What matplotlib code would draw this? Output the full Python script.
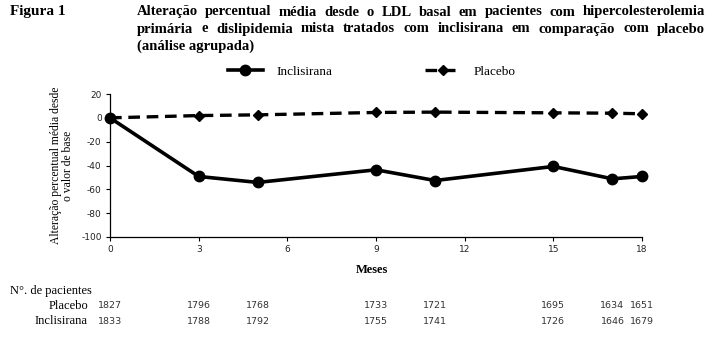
import matplotlib
matplotlib.use("Agg")
import matplotlib.pyplot as plt
from matplotlib.transforms import blended_transform_factory

plt.rcParams["axes.unicode_minus"] = False

# dados do gráfico
meses = [0, 3, 5, 9, 11, 15, 17, 18]
inclisirana = [0, -49.2, -54.2, -43.6, -52.6, -40.8, -51.2, -49.2]
placebo = [0, 1.9, 2.5, 4.5, 4.8, 4.2, 3.9, 3.4]
n_placebo = [1827, 1796, 1768, 1733, 1721, 1695, 1634, 1651]
n_inclisirana = [1833, 1788, 1792, 1755, 1741, 1726, 1646, 1679]
xticks = [0, 3, 6, 9, 12, 15, 18]
yticks = [20, 0, -20, -40, -60, -80, -100]

titulo = ["Alteração percentual média desde o LDL basal em pacientes com hipercolesterolemia",
          "primária e dislipidemia mista tratados com inclisirana em comparação com placebo",
          "(análise agrupada)"]

serif = "Liberation Serif"
sans = "DejaVu Sans"

W, H = 721, 342
fig = plt.figure(figsize=(W / 100, H / 100), dpi=100)
ax = fig.add_axes([110 / W, 1 - 237 / H, (642 - 110) / W, (237 - 94) / H])

l1, = ax.plot(meses, inclisirana, color="black", lw=2.6, marker="o", ms=7.5,
              clip_on=False, zorder=3)
l2, = ax.plot(meses, placebo, color="black", lw=2.4, ls=(0, (3.5, 2)), marker="D",
              ms=5, clip_on=False, zorder=3)

ax.set_xlim(0, 18)
ax.set_ylim(-100, 20)
ax.set_xticks(xticks)
ax.set_yticks(yticks)
ax.tick_params(direction="out", length=3, width=0.8, labelsize=6.5, pad=3,
               labelcolor="#222222")
for lab in ax.get_xticklabels() + ax.get_yticklabels():
    lab.set_family(sans)
ax.spines["top"].set_visible(False)
ax.spines["right"].set_visible(False)
ax.spines["left"].set_linewidth(0.9)
ax.spines["bottom"].set_linewidth(0.9)

ax.set_ylabel("Alteração percentual média desde\no valor de base", family=serif,
              fontsize=8.4, linespacing=1.0, labelpad=5)
fig.text(372 / W, 1 - 270 / H, "Meses", family=serif, fontsize=9,
         fontweight="bold", ha="center", va="center")

fig.legend([l1, l2], ["Inclisirana", "Placebo"], ncol=2, frameon=False,
           loc="center left", bbox_to_anchor=(221 / W, 1 - 72 / H),
           prop={"family": serif, "size": 9.5}, handlelength=2.7,
           columnspacing=7.0, handletextpad=1.0, borderpad=0)

# título
fig.text(10 / W, 1 - 12 / H, "Figura 1", family=serif, fontsize=11,
         fontweight="bold", ha="left", va="center")

fig.canvas.draw()
renderer = fig.canvas.get_renderer()
x0, x1 = 137, 705
for i, linha in enumerate(titulo):
    y = 1 - (12 + 17 * i) / H
    palavras = linha.split()
    if i == len(titulo) - 1:
        fig.text(x0 / W, y, linha, family=serif, fontsize=10.5, fontweight="bold",
                 ha="left", va="center")
        continue
    objs = [fig.text(0, y, p, family=serif, fontsize=10.5, fontweight="bold",
                     ha="left", va="center") for p in palavras]
    larg = [o.get_window_extent(renderer).width for o in objs]
    espaco = (x1 - x0 - sum(larg)) / (len(objs) - 1)
    x = x0
    for o, w in zip(objs, larg):
        o.set_x(x / W)
        x += w + espaco

# tabela com número de pacientes
fig.text(10 / W, 1 - 291 / H, "N°. de pacientes", family=serif, fontsize=9,
         ha="left", va="center")
fig.text(88 / W, 1 - 306 / H, "Placebo", family=serif, fontsize=9,
         ha="right", va="center")
fig.text(88 / W, 1 - 321 / H, "Inclisirana", family=serif, fontsize=9,
         ha="right", va="center")
trans = blended_transform_factory(ax.transData, fig.transFigure)
for m, a, b in zip(meses, n_placebo, n_inclisirana):
    fig.text(m, 1 - 306 / H, str(a), fontsize=6.8, family=sans, color="#333333",
             ha="center", va="center", transform=trans)
    fig.text(m, 1 - 321 / H, str(b), fontsize=6.8, family=sans, color="#333333",
             ha="center", va="center", transform=trans)

fig.savefig("out.png", dpi=100)
